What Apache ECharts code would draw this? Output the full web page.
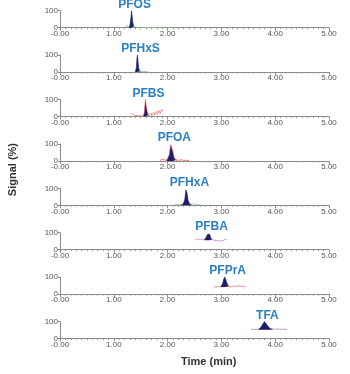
<!DOCTYPE html>
<html>
<head>
<meta charset="utf-8">
<script src="https://cdn.jsdelivr.net/npm/echarts@6/dist/echarts.min.js"></script>
<style>
  html, body { margin: 0; padding: 0; background: #fff; }
  #chart { width: 350px; height: 374px; }
</style>
</head>
<body>
<div id="chart"></div>
<script>
// 化合物名称（从上到下）
const compounds = ['PFOS', 'PFHxS', 'PFBS', 'PFOA', 'PFHxA', 'PFBA', 'PFPrA', 'TFA'];

// 色谱峰（时间 min, 信号 %）
const pfosPeak = [[1.28, 0], [1.30, 15], [1.32, 60], [1.33, 100], [1.34, 75], [1.35, 35], [1.37, 8], [1.40, 0]];
const pfhxsPeak = [[1.40, 0], [1.42, 28], [1.43, 80], [1.44, 100], [1.45, 65], [1.46, 28], [1.48, 6], [1.51, 0]];
const pfbsPeak = [[1.55, 0], [1.57, 30], [1.58, 72], [1.59, 100], [1.60, 66], [1.62, 30], [1.64, 10], [1.66, 0]];
const pfoaPeak = [[1.98, 0], [2.01, 10], [2.03, 35], [2.05, 80], [2.06, 95], [2.07, 100], [2.08, 90], [2.10, 52], [2.12, 22], [2.15, 6], [2.18, 0]];
const pfhxaPeak = [[2.25, 0], [2.29, 8], [2.32, 35], [2.34, 90], [2.35, 100], [2.36, 75], [2.38, 30], [2.41, 8], [2.45, 0]];
const pfbaPeak = [[2.69, 60], [2.72, 75], [2.74, 90], [2.76, 100], [2.78, 92], [2.80, 72], [2.82, 60]];
const pfpraPeak = [[2.99, 44], [3.02, 60], [3.04, 85], [3.06, 100], [3.08, 88], [3.10, 65], [3.13, 48], [3.15, 44]];
const tfaPeak = [[3.69, 54], [3.73, 64], [3.77, 85], [3.80, 100], [3.83, 88], [3.87, 70], [3.91, 57], [3.95, 54]];

// 峰面积填充的基线（%）
const peakBase = [0, 0, 0, 0, 0, 56, 42, 52];

// 背景离子流曲线
const pfosTrace = [[1.20, 0], [1.23, 3], [1.25, 14], [1.26, 4], [1.28, 1], [1.30, 2], [1.38, 2], [1.45, 1], [1.55, 0], [1.70, 1], [1.90, 0], [2.10, 0]];
const pfhxsTrace = [[1.38, 0], [1.40, 2], [1.47, 3], [1.52, 2], [1.58, 4], [1.62, 1], [1.66, 0]];
const pfbsTrace = [[1.34, 20], [1.37, 8], [1.40, 18], [1.43, 5], [1.46, 12], [1.49, 4], [1.52, 10], [1.55, 3], [1.66, 6], [1.69, 20], [1.71, 5], [1.74, 25], [1.76, 8], [1.79, 30], [1.81, 12], [1.84, 35], [1.86, 18], [1.89, 42], [1.92, 30]];
const pfoaTrace = [[1.86, 3], [1.90, 8], [1.93, 2], [1.96, 5], [1.98, 1], [2.18, 6], [2.22, 3], [2.26, 7], [2.30, 2], [2.35, 4], [2.40, 1]];
const pfhxaTrace = [[2.12, 2], [2.16, 5], [2.20, 3], [2.24, 6], [2.27, 3], [2.45, 6], [2.50, 8], [2.55, 4], [2.60, 3]];
const pfbaTrace = [[2.52, 62], [2.56, 58], [2.60, 64], [2.64, 57], [2.68, 61], [2.71, 65], [2.82, 60], [2.86, 56], [2.90, 52], [2.94, 55], [2.98, 50], [3.02, 53], [3.06, 58], [3.10, 62]];
const pfpraTrace = [[2.86, 45], [2.90, 40], [2.94, 46], [2.98, 42], [3.14, 46], [3.18, 42], [3.22, 48], [3.27, 44], [3.32, 50], [3.37, 44], [3.42, 47], [3.46, 42]];
const tfaTrace = [[3.55, 55], [3.60, 52], [3.65, 55], [3.69, 54], [3.95, 56], [3.99, 54], [4.04, 57], [4.10, 53], [4.16, 55], [4.22, 52]];

const peaks = [pfosPeak, pfhxsPeak, pfbsPeak, pfoaPeak, pfhxaPeak, pfbaPeak, pfpraPeak, tfaPeak];
const traces = [pfosTrace, pfhxsTrace, pfbsTrace, pfoaTrace, pfhxaTrace, pfbaTrace, pfpraTrace, tfaTrace];

// 坐标轴刻度
const xTicks = [0, 1, 2, 3, 4, 5];
const yTicks = [0, 100];

// 样式
const NAVY = '#1c1f68';
const TITLE_BLUE = '#2d7fc4';
const traceColors = ['#7cc47c', '#8cc88c', '#ec7a72', '#e8615c', '#8cc88c', '#c07ec4', '#e07a78', '#c77ac8'];
const peakEdge = [NAVY, NAVY, '#d8485a', '#c8486a', NAVY, NAVY, NAVY, NAVY];

const GRID_TOP = 10.7;
const GRID_STEP = 44.4;
const GRID_H = 17;
const FONT = '"Liberation Sans", Arial, sans-serif';

const grids = [], xAxes = [], yAxes = [], series = [];

compounds.forEach((name, i) => {
  grids.push({ left: 60, right: 21, top: GRID_TOP + i * GRID_STEP, height: GRID_H });

  xAxes.push({
    type: 'value', gridIndex: i, min: xTicks[0], max: xTicks[xTicks.length - 1], interval: 1,
    axisLine: { lineStyle: { color: '#8a8a8a', width: 1 } },
    axisTick: { show: true, length: 3, lineStyle: { color: '#8a8a8a' } },
    minorTick: { show: true, splitNumber: 10, length: 1.5, lineStyle: { color: '#9a9a9a' } },
    splitLine: { show: false },
    axisLabel: {
      fontSize: 8, color: '#555', fontFamily: FONT, margin: 2,
      formatter: v => (v === 0 ? '-0.00' : v.toFixed(2))
    }
  });

  yAxes.push({
    type: 'value', gridIndex: i, min: yTicks[0], max: yTicks[1], interval: 100,
    axisLine: { show: true, lineStyle: { color: '#8a8a8a', width: 1 } },
    axisTick: { show: true, length: 2, lineStyle: { color: '#8a8a8a' } },
    splitLine: { show: false },
    axisLabel: { fontSize: 8, color: '#555', fontFamily: FONT, margin: 2 }
  });

  // 背景曲线
  series.push({
    type: 'line', xAxisIndex: i, yAxisIndex: i, data: traces[i],
    showSymbol: false, symbol: 'none', silent: true,
    lineStyle: { color: traceColors[i], width: 0.8 }, z: 2
  });

  // 色谱峰 + 名称标签（用 markPoint 标在最高点上）
  series.push({
    type: 'line', xAxisIndex: i, yAxisIndex: i, data: peaks[i],
    showSymbol: false, symbol: 'none', silent: true,
    lineStyle: { color: peakEdge[i], width: 0.6 },
    areaStyle: { color: NAVY, opacity: 1, origin: peakBase[i] },
    markPoint: {
      symbol: 'circle', symbolSize: 0, silent: true, animation: false,
      data: [{ type: 'max', valueDim: 'y' }],
      label: {
        show: true, position: 'top', distance: 0, offset: [3, 0], formatter: name,
        color: TITLE_BLUE, fontSize: 12, fontWeight: 'bold', fontFamily: FONT
      }
    },
    z: 3
  });
});

const chart = echarts.init(document.getElementById('chart'), null, { renderer: 'canvas' });
chart.setOption({
  animation: false,
  backgroundColor: '#fff',
  grid: grids,
  xAxis: xAxes,
  yAxis: yAxes,
  series,
  graphic: [
    {
      type: 'text', left: 7, top: 143, rotation: Math.PI / 2,
      style: { text: 'Signal (%)', font: 'bold 11px ' + FONT, fill: '#333' }
    },
    {
      type: 'text', left: 181, top: 356,
      style: { text: 'Time (min)', font: 'bold 11px ' + FONT, fill: '#333' }
    }
  ]
});
</script>
</body>
</html>
